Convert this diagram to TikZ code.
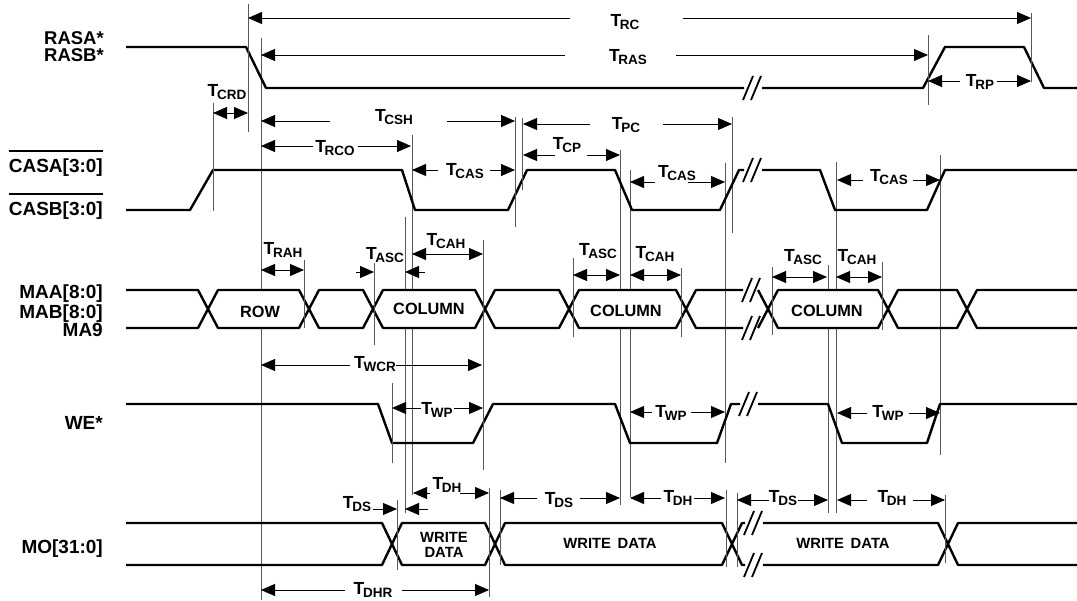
\documentclass[tikz,border=0pt]{standalone}
\usepackage{fontspec}
\setmainfont{Liberation Sans}
\usetikzlibrary{arrows.meta}

\newcommand{\Tl}[1]{{\fontsize{17.5}{17}\selectfont T}\kern-1.3pt\raisebox{-2.8pt}{\fontsize{13.5}{13}\selectfont #1}}
\newcommand{\dimarrow}[5]{\draw[arr] (#4,#1) -- (#2,#1); \draw[arr] (#5,#1) -- (#3,#1);}
\newcommand{\brk}[2]{\draw[slashmark] (#1-1,#2+12) -- (#1+9,#2-12) (#1+7,#2+12) -- (#1+17,#2-12);}
\newcommand{\hexa}[5][]{\draw[sig,#1] (#2,{(#4+#5)/2}) -- (#2+10,#4) -- (#3-10,#4) -- (#3,{(#4+#5)/2}) -- (#3-10,#5) -- (#2+10,#5) -- cycle;}

\begin{document}
\begin{tikzpicture}[x=1pt,y=-1pt,
 sig/.style={line width=2.4pt,line join=round},
 slashmark/.style={line width=1.8pt},
 vline/.style={line width=0.9pt,black!65},
 arr/.style={line width=0.9pt,-{Triangle[length=14pt,width=12pt]}},
 darr/.style={line width=0.9pt,{Triangle[length=14pt,width=12pt]}-{Triangle[length=14pt,width=12pt]}},
 tlab/.style={inner sep=0pt,font=\bfseries},
 siglab/.style={inner sep=0pt,anchor=base east,font=\fontsize{19}{19}\selectfont\bfseries},
 boxlab/.style={inner sep=0pt,anchor=base,font=\fontsize{16.3}{16}\selectfont\bfseries},
 wdlab/.style={inner sep=0pt,anchor=base,font=\fontsize{14.8}{15}\selectfont\bfseries}]

\fill[white] (0,0) rectangle (1077,601);
\useasboundingbox (0,0) rectangle (1077,601);

% long reference lines (hidden inside labelled boxes)
\foreach \x/\a/\b in {261/38/600, 405/217/513, 412/135/495, 620/150/505, 630/170/497, 828/265/513, 836/162/513, 940/155/455, 725/163/463, 732/117/233}
  {\draw[vline] (\x,\a) -- (\x,\b);}

% RAS
\draw[sig] (126,47) -- (246,47) -- (266,88) -- (744,88);
\draw[sig] (762,88) -- (923,88) -- (945,47) -- (1024,47) -- (1044,88) -- (1077,88);
\brk{744}{88}

% CAS
\draw[sig] (126,210) -- (190,210) -- (213,170) -- (402,170) -- (415,210) -- (508,210) -- (527,170) -- (615,170) -- (632,210) -- (720,210) -- (739,170) -- (744,170);
\draw[sig] (762,170) -- (820,170) -- (835,210) -- (927,210) -- (945,170) -- (1077,170);
\brk{744}{170}

% MA bus
\draw[sig] (126,290) -- (198,290) -- (208,309) (126,328) -- (198,328) -- (208,309);
\hexa[fill=white]{208}{309}{290}{328}
\hexa{309}{373}{290}{328}
\hexa[fill=white]{373}{485}{290}{328}
\hexa{485}{569}{290}{328}
\hexa[fill=white]{569}{686}{290}{328}
\draw[sig] (686,309) -- (696,290) -- (743,290) (686,309) -- (696,328) -- (743,328);
\brk{743}{290}
\brk{743}{328}
\draw[sig] (758,290) -- (768,309) -- (758,328);
\hexa[fill=white]{768}{888}{290}{328}
\hexa{888}{967}{290}{328}
\draw[sig] (967,309) -- (977,290) -- (1077,290) (967,309) -- (977,328) -- (1077,328);

% WE
\draw[sig] (126,404) -- (378,404) -- (392,443) -- (473,443) -- (493,404) -- (615,404) -- (630,443) -- (717,443) -- (731,404) -- (740,404);
\brk{740}{404}
\draw[sig] (758,404) -- (828,404) -- (842,443) -- (927,443) -- (940,404) -- (1077,404);

% MO bus
\draw[sig] (126,523) -- (382,523) -- (392,544) (126,565) -- (382,565) -- (392,544);
\hexa{392}{495}{523}{565}
\hexa{495}{732}{523}{565}
\draw[sig] (732,544) -- (742,523) -- (745,523) (732,544) -- (742,565) -- (745,565);
\brk{745}{523}
\brk{745}{565}
\draw[sig] (763,523) -- (938,523) -- (948,544) -- (938,565) -- (763,565);
\draw[sig] (948,544) -- (958,523) -- (1077,523) (948,544) -- (958,565) -- (1077,565);

% short ticks
\foreach \x/\a/\b in {248/4/132, 213/103/211, 1031/13/82, 928/35/105, 515/117/227, 522/118/190, 304/260/328, 374/263/345, 483/240/470, 573/258/337, 681/268/337, 772/267/335, 882/262/330, 392/383/463, 397/500/570, 489/488/597, 500/490/565, 726/490/567, 737/493/567, 945/495/563}
  {\draw[vline] (\x,\a) -- (\x,\b);}

% dimension arrows
\dimarrow{18}{248}{1031}{570}{683}
\dimarrow{55}{261}{928}{565}{676}
\dimarrow{81}{928}{1031}{960}{997}
\draw[darr] (213,113) -- (248,113);
\dimarrow{121}{261}{515}{330}{447}
\dimarrow{124}{523}{732}{590}{663}
\dimarrow{146}{261}{411}{313}{358}
\dimarrow{155}{523}{620}{555}{587}
\dimarrow{170}{412}{515}{438}{490}
\dimarrow{182}{630}{725}{655}{688}
\dimarrow{180}{837}{940}{863}{913}
\draw[darr] (261,270) -- (304,270);
\draw[arr] (356,272) -- (374,272);
\draw[arr] (425,272) -- (405,272);
\draw[darr] (412,254) -- (483,254);
\draw[darr] (573,275) -- (620,275);
\draw[darr] (630,275) -- (681,275);
\draw[darr] (772,277) -- (827,277);
\draw[darr] (836,277) -- (882,277);
\dimarrow{365}{261}{482}{350}{396}
\dimarrow{408}{392}{483}{421}{454}
\dimarrow{412}{630}{725}{652}{691}
\dimarrow{413}{837}{940}{867}{909}
\draw[arr] (373,509) -- (397,509);
\draw[arr] (428,509) -- (405,509);
\dimarrow{493}{413}{489}{430}{460}
\dimarrow{498}{500}{620}{537}{580}
\dimarrow{498}{630}{725}{661}{694}
\dimarrow{500}{737}{828}{769}{798}
\dimarrow{500}{837}{945}{867}{913}
\dimarrow{590}{261}{489}{345}{402}

% timing labels
\node[tlab] (trc)  at (625,22)  {\Tl{RC}};
\node[tlab] (tras) at (628,57)  {\Tl{RAS}};
\node[tlab] (trp)  at (980,82)  {\Tl{RP}};
\node[tlab] (tcrd) at (227,92)  {\Tl{CRD}};
\node[tlab] (tcsh) at (394,117) {\Tl{CSH}};
\node[tlab] (tpc)  at (626,125) {\Tl{PC}};
\node[tlab] (trco) at (335,148) {\Tl{RCO}};
\node[tlab] (tcp)  at (567,145) {\Tl{CP}};
\node[tlab] (tcas1) at (465,171) {\Tl{CAS}};
\node[tlab] (tcas2) at (677,173) {\Tl{CAS}};
\node[tlab] (tcas3) at (889,177) {\Tl{CAS}};
\node[tlab] (trah) at (283,250) {\Tl{RAH}};
\node[tlab] (tasc1) at (385,255) {\Tl{ASC}};
\node[tlab] (tcah1) at (446,241) {\Tl{CAH}};
\node[tlab] (tasc2) at (598,251) {\Tl{ASC}};
\node[tlab] (tcah2) at (655,254) {\Tl{CAH}};
\node[tlab] (tasc3) at (803,257) {\Tl{ASC}};
\node[tlab] (tcah3) at (857,257) {\Tl{CAH}};
\node[tlab] (twcr) at (375,364) {\Tl{WCR}};
\node[tlab] (twp1) at (437,410) {\Tl{WP}};
\node[tlab] (twp2) at (671,413) {\Tl{WP}};
\node[tlab] (twp3) at (888,413) {\Tl{WP}};
\node[tlab] (tds1) at (357,504) {\Tl{DS}};
\node[tlab] (tdh1) at (447,485) {\Tl{DH}};
\node[tlab] (tds2) at (559,500) {\Tl{DS}};
\node[tlab] (tdh2) at (678,498) {\Tl{DH}};
\node[tlab] (tds3) at (783,498) {\Tl{DS}};
\node[tlab] (tdh3) at (892,498) {\Tl{DH}};
\node[tlab] (tdhr) at (373,590) {\Tl{DHR}};

% signal names
\node[siglab,font=\fontsize{18.5}{18}\selectfont\bfseries] (rasa) at (104,44.5) {RASA*};
\node[siglab,font=\fontsize{18.5}{18}\selectfont\bfseries] (rasb) at (104,62)   {RASB*};
\node[siglab] (casa) at (103,173)  {CASA[3:0]};
\node[siglab] (casb) at (103,216)  {CASB[3:0]};
\draw[line width=1.8pt] ([yshift=8pt]casa.north west) -- ([yshift=8pt]casa.north east);
\draw[line width=1.8pt] ([yshift=8pt]casb.north west) -- ([yshift=8pt]casb.north east);
\node[siglab] (maa) at (103,299) {MAA[8:0]};
\node[siglab] (mab) at (103,319) {MAB[8:0]};
\node[siglab] (ma9) at (103,337) {MA9};
\node[siglab] (we)  at (103,430) {WE*};
\node[siglab] (mo)  at (103,554) {MO[31:0]};

% box texts
\node[boxlab] (row)  at (260,318) {ROW};
\node[boxlab] (col1) at (429,315) {COLUMN};
\node[boxlab] (col2) at (626,317) {COLUMN};
\node[boxlab] (col3) at (827,317) {COLUMN};
\node[wdlab] (wd1a) at (444,542) {WRITE};
\node[wdlab] (wd1b) at (444,557) {DATA};
\node[wdlab] (wd2)  at (610,548) {WRITE\hspace{0.45em}DATA};
\node[wdlab] (wd3)  at (843,548) {WRITE\hspace{0.45em}DATA};
\end{tikzpicture}
\end{document}
